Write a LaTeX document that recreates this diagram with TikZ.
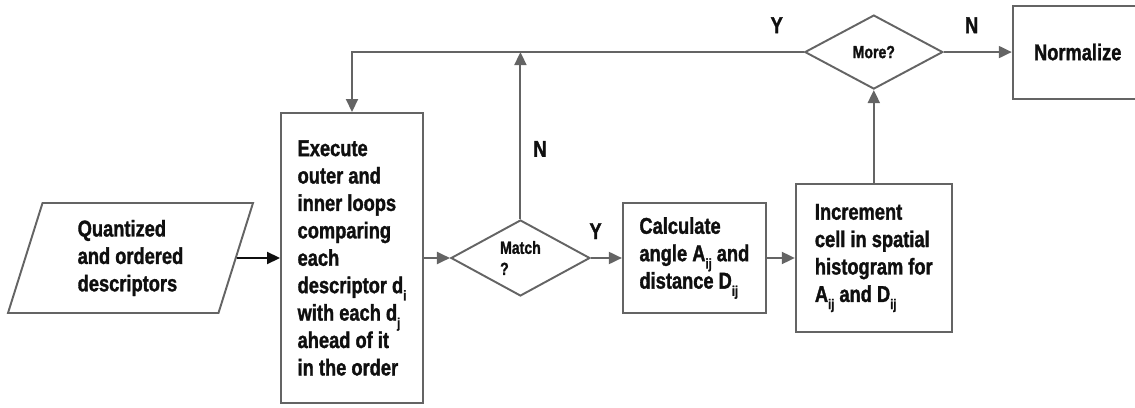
\documentclass[tikz,border=0pt]{standalone}
\usepackage{fontspec}
\setmainfont{Liberation Sans}[BoldFont={Liberation Sans Bold}, BoldFeatures={FakeBold=1.4}, FakeStretch=0.8]
\usepackage{tikz}
\usetikzlibrary{arrows.meta,positioning,shapes.geometric}
\definecolor{edgegray}{RGB}{100,100,100}
\definecolor{inkblack}{RGB}{15,15,15}
\newcommand{\lowsub}[1]{\raisebox{-0.6ex}{\fontsize{8}{8}\selectfont #1}}

\begin{document}
\begin{tikzpicture}[
  font=\fontsize{13}{15.6}\selectfont\bfseries,
  text=inkblack,
  box/.style={draw=edgegray, line width=1.1pt, align=left, inner sep=0pt},
  decide/.style={box, diamond, font=\fontsize{10}{12}\selectfont\bfseries},
  iobox/.style={box, trapezium, trapezium left angle=65.6, trapezium right angle=114.4, trapezium stretches body},
  arrow/.style={-{Triangle[length=2.6mm, width=2.4mm]}, line width=1.1pt, draw=edgegray},
  inarrow/.style={arrow, draw=inkblack},
  lbl/.style={inner sep=0pt}
]
  \useasboundingbox (0,0) rectangle (22.7,8.14);

  \node[box, minimum width=2.84cm, minimum height=5.8cm] (exec) at (7.04,2.98)
    {Execute\\outer and\\inner loops\\comparing\\each\\descriptor d\lowsub{i}\\with each d\lowsub{j}\\ahead of it\\in the order};
  \node[iobox, minimum width=4.9cm, minimum height=2.2cm] (input) at (2.61,2.98)
    {Quantized\\and ordered\\descriptors};
  \node[decide, minimum width=2.78cm, minimum height=1.52cm, right=0.52cm of exec] (match) {Match\\?};
  \node[box, minimum width=2.86cm, minimum height=2.2cm, right=0.62cm of match] (calc)
    {Calculate\\angle A\lowsub{ij} and\\distance D\lowsub{ij}};
  \node[box, minimum width=3.12cm, minimum height=2.96cm, right=0.56cm of calc] (incr)
    {Increment\\cell in spatial\\histogram for\\A\lowsub{ij} and D\lowsub{ij}};
  \node[decide, minimum width=2.76cm, minimum height=1.48cm, above=1.86cm of incr] (more) {More?};
  \node[box, minimum width=2.6cm, minimum height=1.86cm, right=1.36cm of more] (norm) {Normalize};

  \draw[inarrow] (input) -- (exec);
  \draw[arrow] (exec) -- (match);
  \draw[arrow] (match) -- node[lbl, pos=0.15, above=0.36cm] {Y} (calc);
  \draw[arrow] (calc) -- (incr);
  \draw[arrow] (incr) -- (more);
  \draw[arrow] (more) -- node[lbl, pos=0.41, above=0.36cm] {N} (norm);
  \draw[arrow] (more.west) -| node[lbl, pos=0.03, above=0.36cm] {Y} (exec.north);
  \draw[arrow] (match.north) -- node[lbl, pos=0.42, right=0.24cm] {N} (match.north |- more.west);
\end{tikzpicture}
\end{document}
